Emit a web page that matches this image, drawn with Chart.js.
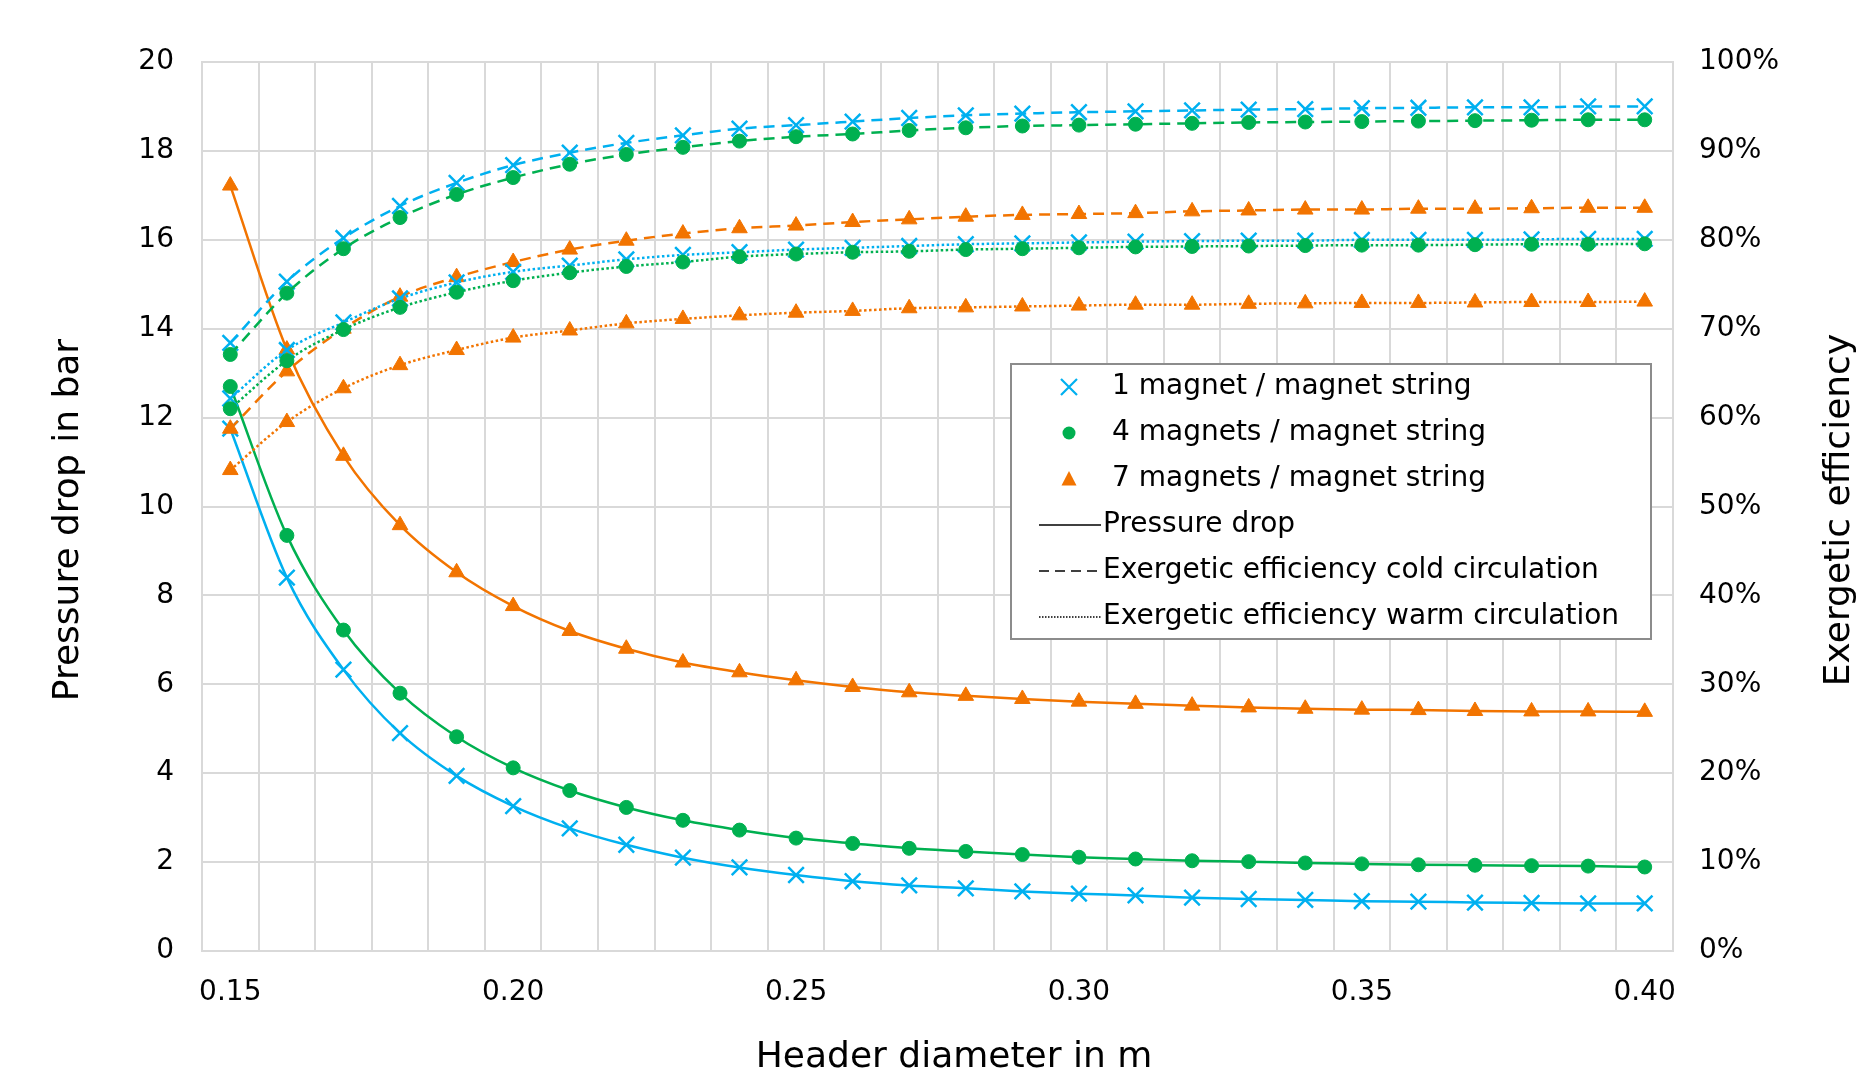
<!DOCTYPE html>
<html lang="en">
<head>
<meta charset="UTF-8">
<title>Pressure drop and exergetic efficiency vs header diameter</title>
<script src="https://cdn.jsdelivr.net/npm/chart.js"></script>
<style>
    body {
        margin: 0;
        background: #ffffff;
        overflow: hidden;
    }
    #wrap {
        width: 1869px;
        height: 1070px;
    }
</style>
</head>
<body>
<div id="wrap"><canvas id="chart" width="1869" height="1070"></canvas></div>
<script>
    // header diameter in m (category axis)
    const diameters = ['0.15', '0.16', '0.17', '0.18', '0.19', '0.20', '0.21', '0.22', '0.23', '0.24', '0.25', '0.26', '0.27',
        '0.28', '0.29', '0.30', '0.31', '0.32', '0.33', '0.34', '0.35', '0.36', '0.37', '0.38', '0.39', '0.40'];

    // pressure drop in bar
    const pressure1 = [11.75, 8.4, 6.33, 4.9, 3.94, 3.26, 2.76, 2.39, 2.1, 1.88, 1.71, 1.57, 1.475, 1.41, 1.34, 1.29,
        1.25, 1.2, 1.17, 1.15, 1.12, 1.11, 1.09, 1.08, 1.07, 1.07];
    const pressure4 = [12.7, 9.35, 7.22, 5.8, 4.82, 4.12, 3.61, 3.23, 2.94, 2.72, 2.54, 2.42, 2.31, 2.24, 2.17, 2.11,
        2.07, 2.03, 2.01, 1.98, 1.96, 1.94, 1.93, 1.92, 1.91, 1.89];
    const pressure7 = [17.22, 13.53, 11.14, 9.58, 8.52, 7.76, 7.2, 6.8, 6.49, 6.27, 6.09, 5.94, 5.82, 5.74, 5.67, 5.61,
        5.56, 5.52, 5.48, 5.45, 5.43, 5.42, 5.4, 5.39, 5.39, 5.38];

    // exergetic efficiency, cold circulation (%)
    const cold1 = [68.4, 75.3, 80.2, 83.8, 86.4, 88.4, 89.8, 90.9, 91.75, 92.5, 92.9, 93.3, 93.7, 94.0, 94.2, 94.35,
        94.45, 94.55, 94.65, 94.7, 94.8, 94.85, 94.9, 94.9, 95.0, 95.0];
    const cold4 = [67.1, 74.0, 79.0, 82.5, 85.1, 87.0, 88.5, 89.6, 90.4, 91.1, 91.6, 91.9, 92.3, 92.6, 92.8, 92.9,
        93.0, 93.1, 93.2, 93.25, 93.3, 93.35, 93.4, 93.45, 93.5, 93.5];
    const cold7 = [58.75, 65.2, 70.0, 73.6, 75.8, 77.5, 78.9, 79.9, 80.7, 81.3, 81.6, 82.0, 82.3, 82.6, 82.8, 82.9,
        83.0, 83.2, 83.3, 83.4, 83.4, 83.5, 83.5, 83.55, 83.6, 83.6];

    // exergetic efficiency, warm circulation (%)
    const warm1 = [62.15, 67.6, 70.7, 73.4, 75.2, 76.4, 77.1, 77.8, 78.3, 78.6, 78.9, 79.1, 79.3, 79.5, 79.6, 79.7,
        79.8, 79.85, 79.9, 79.9, 80.0, 80.0, 80.0, 80.05, 80.1, 80.1];
    const warm4 = [61.0, 66.4, 69.9, 72.4, 74.1, 75.4, 76.3, 77.0, 77.5, 78.1, 78.4, 78.6, 78.7, 78.9, 79.0, 79.1,
        79.2, 79.25, 79.3, 79.35, 79.4, 79.4, 79.45, 79.5, 79.5, 79.55];
    const warm7 = [54.1, 59.5, 63.3, 65.9, 67.6, 69.0, 69.8, 70.6, 71.1, 71.5, 71.8, 72.0, 72.3, 72.4, 72.5, 72.6,
        72.7, 72.7, 72.8, 72.85, 72.9, 72.9, 72.95, 73.0, 73.0, 73.05];

    const blue = '#00b0f0';
    const green = '#00b050';
    const orange = '#f27400';
    const gridColor = '#d9d9d9';

    const seriesNames = ['1 magnet / magnet string', '4 magnets / magnet string', '7 magnets / magnet string'];
    const lineNames = ['Pressure drop', 'Exergetic efficiency cold circulation', 'Exergetic efficiency warm circulation'];
    const xTitle = 'Header diameter in m';
    const leftTitle = 'Pressure drop in bar';
    const rightTitle = 'Exergetic efficiency';

    const styles = [
        { color: blue, pointStyle: 'crossRot', radius: 11, border: 2.5 },
        { color: green, pointStyle: 'circle', radius: 7, border: 1 },
        { color: orange, pointStyle: 'triangle', radius: 9, border: 1 }
    ];
    const dashes = [[], [11, 7], [2.5, 2.5]];

    function makeSet(data, s, dash, axis, order) {
        return {
            data: data,
            yAxisID: axis,
            borderColor: s.color,
            backgroundColor: s.color,
            borderWidth: 2.5,
            borderDash: dash,
            pointStyle: s.pointStyle,
            pointRadius: s.radius,
            pointBorderWidth: s.border,
            pointBackgroundColor: s.color,
            pointBorderColor: s.color,
            cubicInterpolationMode: 'monotone',
            fill: false,
            order: order
        };
    }

    const groups = [
        [pressure1, pressure4, pressure7],
        [cold1, cold4, cold7],
        [warm1, warm4, warm7]
    ];
    const datasets = [];
    let n = 9;
    groups.forEach((g, gi) => {
        g.forEach((d, si) => {
            datasets.push(makeSet(d, styles[si], dashes[gi], gi === 0 ? 'y' : 'y1', n--));
        });
    });

    // small marker drawer for the legend box
    function drawMarker(ctx, type, x, y, color) {
        ctx.save();
        ctx.strokeStyle = color;
        ctx.fillStyle = color;
        ctx.lineWidth = 2.2;
        ctx.beginPath();
        if (type === 'x') {
            ctx.moveTo(x - 8, y - 8); ctx.lineTo(x + 8, y + 8);
            ctx.moveTo(x - 8, y + 8); ctx.lineTo(x + 8, y - 8);
            ctx.stroke();
        } else if (type === 'dot') {
            ctx.arc(x, y, 6.5, 0, Math.PI * 2);
            ctx.fill();
        } else {
            ctx.moveTo(x, y - 8); ctx.lineTo(x + 7.5, y + 6.5); ctx.lineTo(x - 7.5, y + 6.5);
            ctx.closePath();
            ctx.fill();
        }
        ctx.restore();
    }

    function drawTitle(ctx, text, x, y, rotate) {
        ctx.save();
        ctx.translate(x, y);
        if (rotate) ctx.rotate(-Math.PI / 2);
        ctx.font = '36px "DejaVu Sans"';
        ctx.fillStyle = '#000000';
        ctx.textAlign = 'center';
        ctx.textBaseline = 'middle';
        ctx.fillText(text, 0, 0);
        ctx.restore();
    }

    const legendBox = {
        id: 'legendBox',
        afterDraw(chart) {
            const ctx = chart.ctx;

            // axis titles (both y titles read bottom-to-top)
            drawTitle(ctx, xTitle, 954, 1058, false);
            drawTitle(ctx, leftTitle, 69, 520, true);
            drawTitle(ctx, rightTitle, 1840, 510, true);

            ctx.save();
            ctx.fillStyle = '#ffffff';
            ctx.fillRect(1011, 364, 640, 275);
            ctx.strokeStyle = '#8c8c8c';
            ctx.lineWidth = 2;
            ctx.strokeRect(1011, 364, 640, 275);

            ctx.font = '28px "DejaVu Sans"';
            ctx.textBaseline = 'middle';
            ctx.fillStyle = '#000000';
            const markers = ['x', 'dot', 'tri'];
            const colors = [blue, green, orange];
            for (let i = 0; i < 3; i++) {
                const y = 387 + i * 46;
                drawMarker(ctx, markers[i], 1069, y, colors[i]);
                ctx.fillText(seriesNames[i], 1112, y);
            }
            const legendDash = [[], [10, 6], [1.5, 1.5]];
            for (let i = 0; i < 3; i++) {
                const y = 525 + i * 46;
                ctx.save();
                ctx.strokeStyle = '#000000';
                ctx.lineWidth = 1.5;
                ctx.setLineDash(legendDash[i]);
                ctx.beginPath();
                ctx.moveTo(1039, y);
                ctx.lineTo(1101, y);
                ctx.stroke();
                ctx.restore();
                ctx.fillText(lineNames[i], 1103, y);
            }
            ctx.restore();
        }
    };

    Chart.defaults.font.family = '"DejaVu Sans"';
    Chart.defaults.color = '#000000';

    new Chart(document.getElementById('chart'), {
        type: 'line',
        data: { labels: diameters, datasets: datasets },
        options: {
            responsive: false,
            animation: false,
            devicePixelRatio: 1,
            layout: { padding: { top: 62, right: 0, bottom: 0, left: 0 } },
            plugins: {
                legend: { display: false },
                tooltip: { enabled: false }
            },
            scales: {
                x: {
                    type: 'category',
                    offset: true,
                    grid: { offset: true, color: gridColor, lineWidth: 2, drawTicks: false },
                    border: { color: gridColor, width: 2 },
                    ticks: {
                        autoSkip: false,
                        maxRotation: 0,
                        padding: 25,
                        font: { size: 28 },
                        callback: (v, i) => (i % 5 === 0 ? diameters[i] : '')
                    },
                    afterFit: (s) => { s.height = 119; }
                },
                y: {
                    position: 'left',
                    min: 0,
                    max: 20,
                    grid: { color: gridColor, lineWidth: 2, drawTicks: false },
                    border: { color: gridColor, width: 2 },
                    ticks: { stepSize: 2, padding: 28, font: { size: 28 } },
                    afterFit: (s) => { s.width = 202; }
                },
                y1: {
                    position: 'right',
                    min: 0,
                    max: 100,
                    grid: { display: false, drawTicks: false },
                    border: { color: gridColor, width: 2 },
                    ticks: { stepSize: 10, padding: 26, font: { size: 28 }, callback: (v) => v + '%' },
                    afterFit: (s) => { s.width = 196; }
                }
            }
        },
        plugins: [legendBox]
    });
</script>
</body>
</html>
